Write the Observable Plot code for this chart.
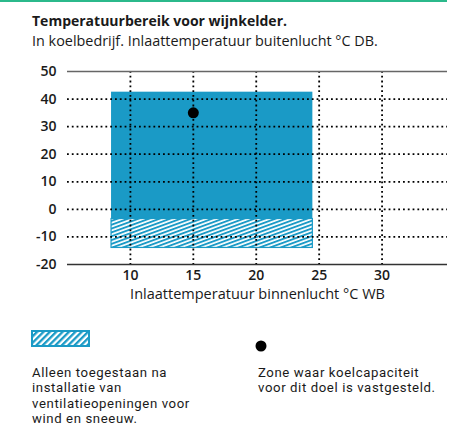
<!DOCTYPE html>
<html>
<head>
<meta charset="utf-8">
<script src="https://cdn.jsdelivr.net/npm/d3@7"></script>
<script src="https://cdn.jsdelivr.net/npm/@observablehq/plot@0.6"></script>
<style>
  html, body { margin: 0; padding: 0; background: #fff; }
  body { width: 457px; height: 426px; position: relative; overflow: hidden; font-family: "Open Sans", Roboto, sans-serif; color: #1a1a1a; }
  .bar { position: absolute; left: 0; top: 0; width: 447px; height: 2px; background: #2bb98b; }
  .t { position: absolute; left: 32px; white-space: nowrap; }
  #title { top: 11px; font-size: 14px; font-weight: 700; }
  #subtitle { top: 31px; font-size: 14.4px; }
  #chart { position: absolute; left: 0; top: 0; }
  .leg { position: absolute; font-family: Roboto, sans-serif; font-size: 13.2px; letter-spacing: 0.6px; line-height: 15.5px; white-space: nowrap; }
</style>
</head>
<body>
<div class="bar"></div>
<div id="chart"></div>
<div class="t" id="title">Temperatuurbereik voor wijnkelder.</div>
<div class="t" id="subtitle">In koelbedrijf. Inlaattemperatuur buitenlucht °C DB.</div>
<svg style="position:absolute;left:31px;top:330px" width="60" height="18">
  <defs>
    <pattern id="hatchLeg" patternUnits="userSpaceOnUse" width="4.5" height="4.5" patternTransform="rotate(-45)">
      <rect width="4.5" height="4.5" fill="#fff"></rect>
      <rect width="4.5" height="2.3" fill="#1a9ac6"></rect>
    </pattern>
  </defs>
  <rect x="1" y="1" width="57" height="15" fill="url(#hatchLeg)" stroke="#1a9ac6" stroke-width="2"></rect>
</svg>
<div class="leg" style="left:32px;top:364.5px">Alleen toegestaan na<br>installatie van<br>ventilatieopeningen voor<br>wind en sneeuw.</div>
<svg style="position:absolute;left:255px;top:340px" width="12" height="12"><circle cx="6" cy="6" r="5.5" fill="#000"></circle></svg>
<div class="leg" style="left:258px;top:364.5px">Zone waar koelcapaciteit<br>voor dit doel is vastgesteld.</div>
<script>
// Data
const xTicks = [10, 15, 20, 25, 30];
const yTicks = [-20, -10, 0, 10, 20, 30, 40, 50];
const yGrid = [-10, 0, 10, 20, 30, 40];
const zoneX1 = [8.5];
const zoneX2 = [24.5];
const solidLow = [-3.5];
const solidHigh = [42.5];
const hatchLow = [-14];
const hatchHigh = [-3.5];
const pointX = [15];
const pointY = [35];
const xLabel = "Inlaattemperatuur binnenlucht °C WB";

const blue = "#1a9ac6";
const solid = zoneX1.map((x1, i) => ({x1, x2: zoneX2[i], y1: solidLow[i], y2: solidHigh[i]}));
const hatched = zoneX1.map((x1, i) => ({x1, x2: zoneX2[i], y1: hatchLow[i], y2: hatchHigh[i]}));
const points = pointX.map((x, i) => ({x, y: pointY[i]}));

const plot = Plot.plot({
  width: 457,
  height: 310,
  marginTop: 71,
  marginBottom: 46,
  marginLeft: 67,
  marginRight: 10,
  style: {fontFamily: "'Open Sans', Roboto, sans-serif", fontSize: "14px", color: "#1a1a1a", background: "transparent"},
  x: {domain: [5, 35.2]},
  y: {domain: [-20, 50]},
  marks: [
    Plot.rect(solid, {x1: "x1", x2: "x2", y1: "y1", y2: "y2", fill: blue}),
    Plot.rect(hatched, {x1: "x1", x2: "x2", y1: "y1", y2: "y2", fill: "url(#hatchChart)", stroke: blue, strokeWidth: 1.2}),
    Plot.gridY({ticks: yGrid, stroke: "#000", strokeOpacity: 1, strokeWidth: 1.8, strokeDasharray: "1.8,3"}),
    Plot.gridX({ticks: xTicks, stroke: "#000", strokeOpacity: 1, strokeWidth: 1.8, strokeDasharray: "1.8,3"}),
    Plot.ruleY([50], {stroke: "#666", strokeWidth: 1.5}),
    Plot.ruleY([-20], {stroke: "#333", strokeWidth: 1.5}),
    Plot.dot(points, {x: "x", y: "y", r: 5.5, fill: "#000"}),
    Plot.axisY({ticks: yTicks, tickFormat: d => String(d), tickSize: 0, tickPadding: 11, label: null, fontWeight: 600, fontSize: 14}),
    Plot.axisX({ticks: xTicks, tickFormat: d => String(d), tickSize: 0, tickPadding: 6, label: null, fontWeight: 600, fontSize: 14}),
    Plot.text([xLabel], {text: d => d, frameAnchor: "bottom", dy: 34, fontSize: 14.5, fill: "#1a1a1a"})
  ]
});

const ns = "http://www.w3.org/2000/svg";
const defs = document.createElementNS(ns, "defs");
defs.innerHTML = `<pattern id="hatchChart" patternUnits="userSpaceOnUse" width="12" height="3.6" patternTransform="rotate(-20)">
  <rect width="12" height="3.6" fill="#fff"></rect>
  <rect width="12" height="1.9" fill="${blue}"></rect>
</pattern>`;
plot.insertBefore(defs, plot.firstChild);
document.getElementById("chart").appendChild(plot);
</script>
</body>
</html>
